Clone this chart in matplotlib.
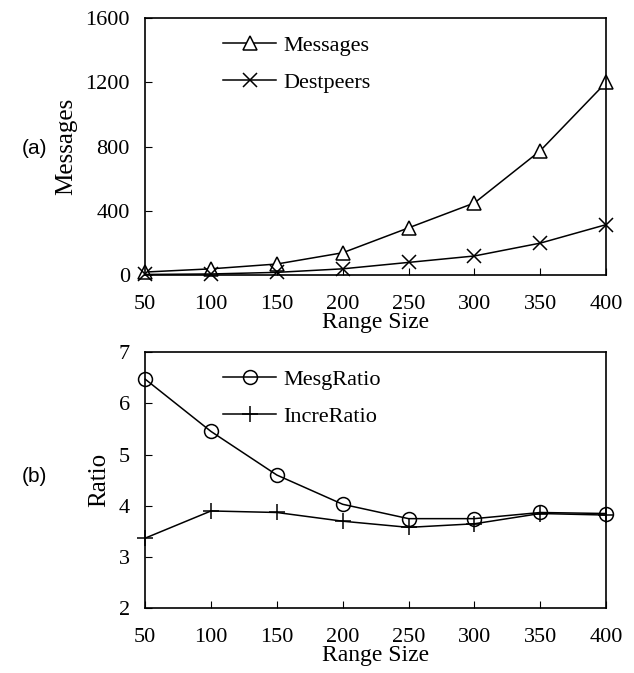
import numpy as np
import matplotlib
matplotlib.use('Agg')
import matplotlib.pyplot as plt

range_size = [50, 100, 150, 200, 250, 300, 350, 400]
messages   = [20, 40, 70, 140, 295, 450, 775, 1200]
destpeers  = [5, 8, 18, 40, 80, 120, 200, 315]
mesg_ratio  = [6.47, 5.45, 4.60, 4.03, 3.75, 3.75, 3.87, 3.85]
incre_ratio = [3.37, 3.90, 3.87, 3.70, 3.58, 3.65, 3.85, 3.82]

plt.rcParams['font.family'] = ['Liberation Serif', 'DejaVu Serif']
FS = 16

fig = plt.figure(figsize=(6.34, 6.73), dpi=100)
ax1 = fig.add_axes([0.229, 0.591, 0.727, 0.382])
ax2 = fig.add_axes([0.229, 0.096, 0.727, 0.381])

# ── (a) Messages ──────────────────────────────────────────────
ax1.plot(range_size, messages, color='black', lw=1.1, marker='^', ms=10,
         mfc='white', mec='black', mew=1.1, label='Messages', clip_on=False)
ax1.plot(range_size, destpeers, color='black', lw=1.1, marker='x', ms=10,
         mew=1.1, label='Destpeers', clip_on=False)
ax1.set_xlim(50, 400)
ax1.set_ylim(0, 1600)
ax1.set_yticks([0, 400, 800, 1200, 1600])
ax1.set_ylabel('Messages', fontsize=18, labelpad=6)
ax1.set_xlabel('Range Size', fontsize=17, labelpad=-1)

# ── (b) Ratio ────────────────────────────────────────────────
ax2.plot(range_size, mesg_ratio, color='black', lw=1.1, marker='o', ms=10,
         mfc='none', mec='black', mew=1.1, label='MesgRatio', clip_on=False)
ax2.plot(range_size, incre_ratio, color='black', lw=1.1, marker='+', ms=12,
         mew=1.1, label='IncreRatio', clip_on=False)
ax2.set_xlim(50, 400)
ax2.set_ylim(2, 7)
ax2.set_yticks([2, 3, 4, 5, 6, 7])
ax2.set_ylabel('Ratio', fontsize=18, labelpad=6)
ax2.set_xlabel('Range Size', fontsize=17, labelpad=-1)

for ax in (ax1, ax2):
    ax.set_xticks(range_size)
    ax.tick_params(axis='x', direction='in', length=5, labelsize=FS, pad=14)
    ax.tick_params(axis='y', direction='in', length=5, labelsize=FS, pad=11)
    for s in ax.spines.values():
        s.set_linewidth(1.2)
    ax.legend(loc='upper left', bbox_to_anchor=(0.14, 0.985), frameon=False,
              fontsize=FS, handlelength=2.4, handletextpad=0.3,
              labelspacing=0.75, borderaxespad=0.2)

fig.text(0.035, 1 - 148 / 673, '(a)', fontsize=15, family='Liberation Sans',
         va='center', ha='left')
fig.text(0.035, 1 - 477 / 673, '(b)', fontsize=15, family='Liberation Sans',
         va='center', ha='left')

fig.savefig('out.png', dpi=100)
